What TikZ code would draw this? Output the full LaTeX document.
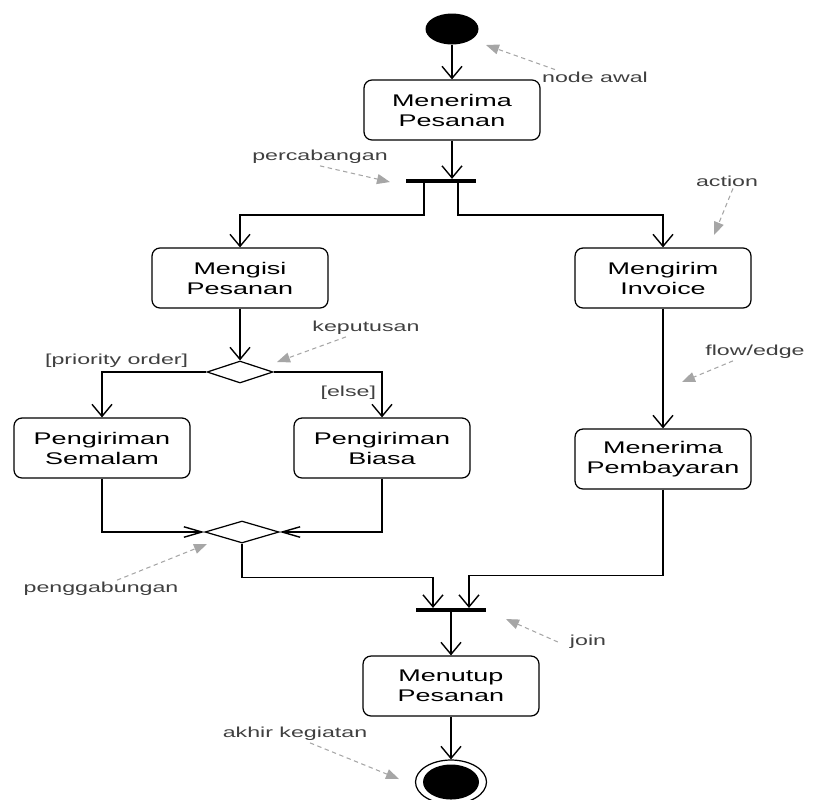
\documentclass[tikz,border=0pt]{standalone}
\usepackage{fontspec}
\newfontfamily\umlfont[FakeStretch=1.6]{Liberation Sans}
\usetikzlibrary{arrows.meta,shapes.geometric}

\begin{document}
\begin{tikzpicture}[x=0.02cm,y=-0.02cm,
    action/.style={draw,line width=0.7pt,rounded corners=0.16cm,minimum width=3.52cm,
        minimum height=1.2cm,align=center,font=\umlfont\fontsize{9.6}{11.4}\selectfont},
    flow/.style={line width=0.8pt,-{Straight Barb[length=2.4mm,width=4mm]}},
    merge/.style={line width=0.8pt,-{Straight Barb[length=3.6mm,width=2.1mm]}},
    bar/.style={fill=black,inner sep=0pt,minimum width=1.4cm,minimum height=0.07cm},
    choice/.style={diamond,draw,line width=0.7pt,inner sep=0pt,minimum width=#1,minimum height=0.44cm},
    note/.style={font=\umlfont\fontsize{8.25}{10}\selectfont,text=black!75,inner sep=1pt},
    pointer/.style={draw=black!35,line width=0.6pt,dash pattern=on 2.5pt off 2pt,
        -{Triangle[length=2.6mm,width=2mm,fill=black!35]}}]
    \useasboundingbox (0,0) rectangle (814,799);

    % start, actions and end
    \draw (452,29) node[ellipse,fill=black,inner sep=0pt,minimum width=1.06cm,minimum height=0.62cm] (S) {};
    \draw (452,110) node[action] (terima) {Menerima\\Pesanan};
    \draw (441,181) node[bar] (fork) {};
    \draw (240,278) node[action] (isi) {Mengisi\\Pesanan};
    \draw (663,278) node[action] (inv) {Mengirim\\Invoice};
    \draw (240,372) node[choice=1.32cm] (dec) {};
    \draw (102,448) node[action] (semalam) {Pengiriman\\Semalam};
    \draw (382,448) node[action] (biasa) {Pengiriman\\Biasa};
    \draw (663,459) node[action] (bayar) {Menerima\\Pembayaran};
    \draw (242,532) node[choice=1.48cm] (mrg) {};
    \draw (451,610) node[bar] (join) {};
    \draw (451,686) node[action] (tutup) {Menutup\\Pesanan};
    \draw (451,782) node[ellipse,draw,line width=0.7pt,inner sep=0pt,minimum width=1.42cm,minimum height=0.88cm] (F) {};
    \fill (F.center) ellipse (0.56cm and 0.35cm);

    % control flow
    \draw[flow] (S.south) -- (terima.north);
    \draw[flow] (terima.south) -- (terima.south |- fork.north);
    \draw[flow] ([xshift=-0.34cm]fork.south) -- ++(0,-0.64cm) -| (isi.north);
    \draw[flow] ([xshift=0.34cm]fork.south) -- ++(0,-0.64cm) -| (inv.north);
    \draw[flow] (isi.south) -- (dec.north);
    \draw[flow] (dec.west) -| node[note,above,pos=.43,yshift=1pt] {[priority order]} (semalam.north);
    \draw[flow] (dec.east) -| node[note,left,pos=.73,xshift=-2pt] {[else]} (biasa.north);
    \draw[merge] (semalam.south) |- (mrg.west);
    \draw[merge] (biasa.south) |- (mrg.east);
    \draw[flow] (inv.south) -- (bayar.north);
    \draw[flow] (mrg.south) -- ++(0,-0.68cm) -| ([xshift=-0.36cm]join.north);
    \draw[flow] (bayar.south) -- ++(0,-1.72cm) -| ([xshift=0.36cm]join.north);
    \draw[flow] (join.south) -- (tutup.north);
    \draw[flow] (tutup.south) -- (F.north);

    % notes
    \node[note] (nAwal) at (595,77) {node awal};
    \node[note] (nCab) at (320,157) {percabangan};
    \node[note] (nAct) at (727,181) {action};
    \node[note] (nKep) at (366,328) {keputusan};
    \node[note] (nFlow) at (755,352) {flow/edge};
    \node[note] (nGab) at (101,589) {penggabungan};
    \node[note] (nJoin) at (588,642) {join};
    \node[note] (nAkhir) at (295,734) {akhir kegiatan};
    \coordinate (pAwal) at (486,45);
    \coordinate (pCab) at (390,182);
    \coordinate (pAct) at (714,235);
    \coordinate (pKep) at (277,362);
    \coordinate (pFlow) at (682,382);
    \coordinate (pGab) at (207,544);
    \coordinate (pJoin) at (506,619);
    \coordinate (pAkhir) at (399,779);
    \draw[pointer] ([xshift=0.3cm]nAwal.north west) -- (pAwal);
    \draw[pointer] (nCab.south) -- (pCab);
    \draw[pointer] ([xshift=0.12cm]nAct.south) -- (pAct);
    \draw[pointer] ([xshift=-0.4cm]nKep.south) -- (pKep);
    \draw[pointer] ([xshift=-0.44cm]nFlow.south) -- (pFlow);
    \draw[pointer] ([xshift=0.32cm]nGab.north) -- (pGab);
    \draw[pointer] ([xshift=-0.2cm]nJoin.west) -- (pJoin);
    \draw[pointer] ([xshift=0.3cm]nAkhir.south) -- (pAkhir);
\end{tikzpicture}
\end{document}
